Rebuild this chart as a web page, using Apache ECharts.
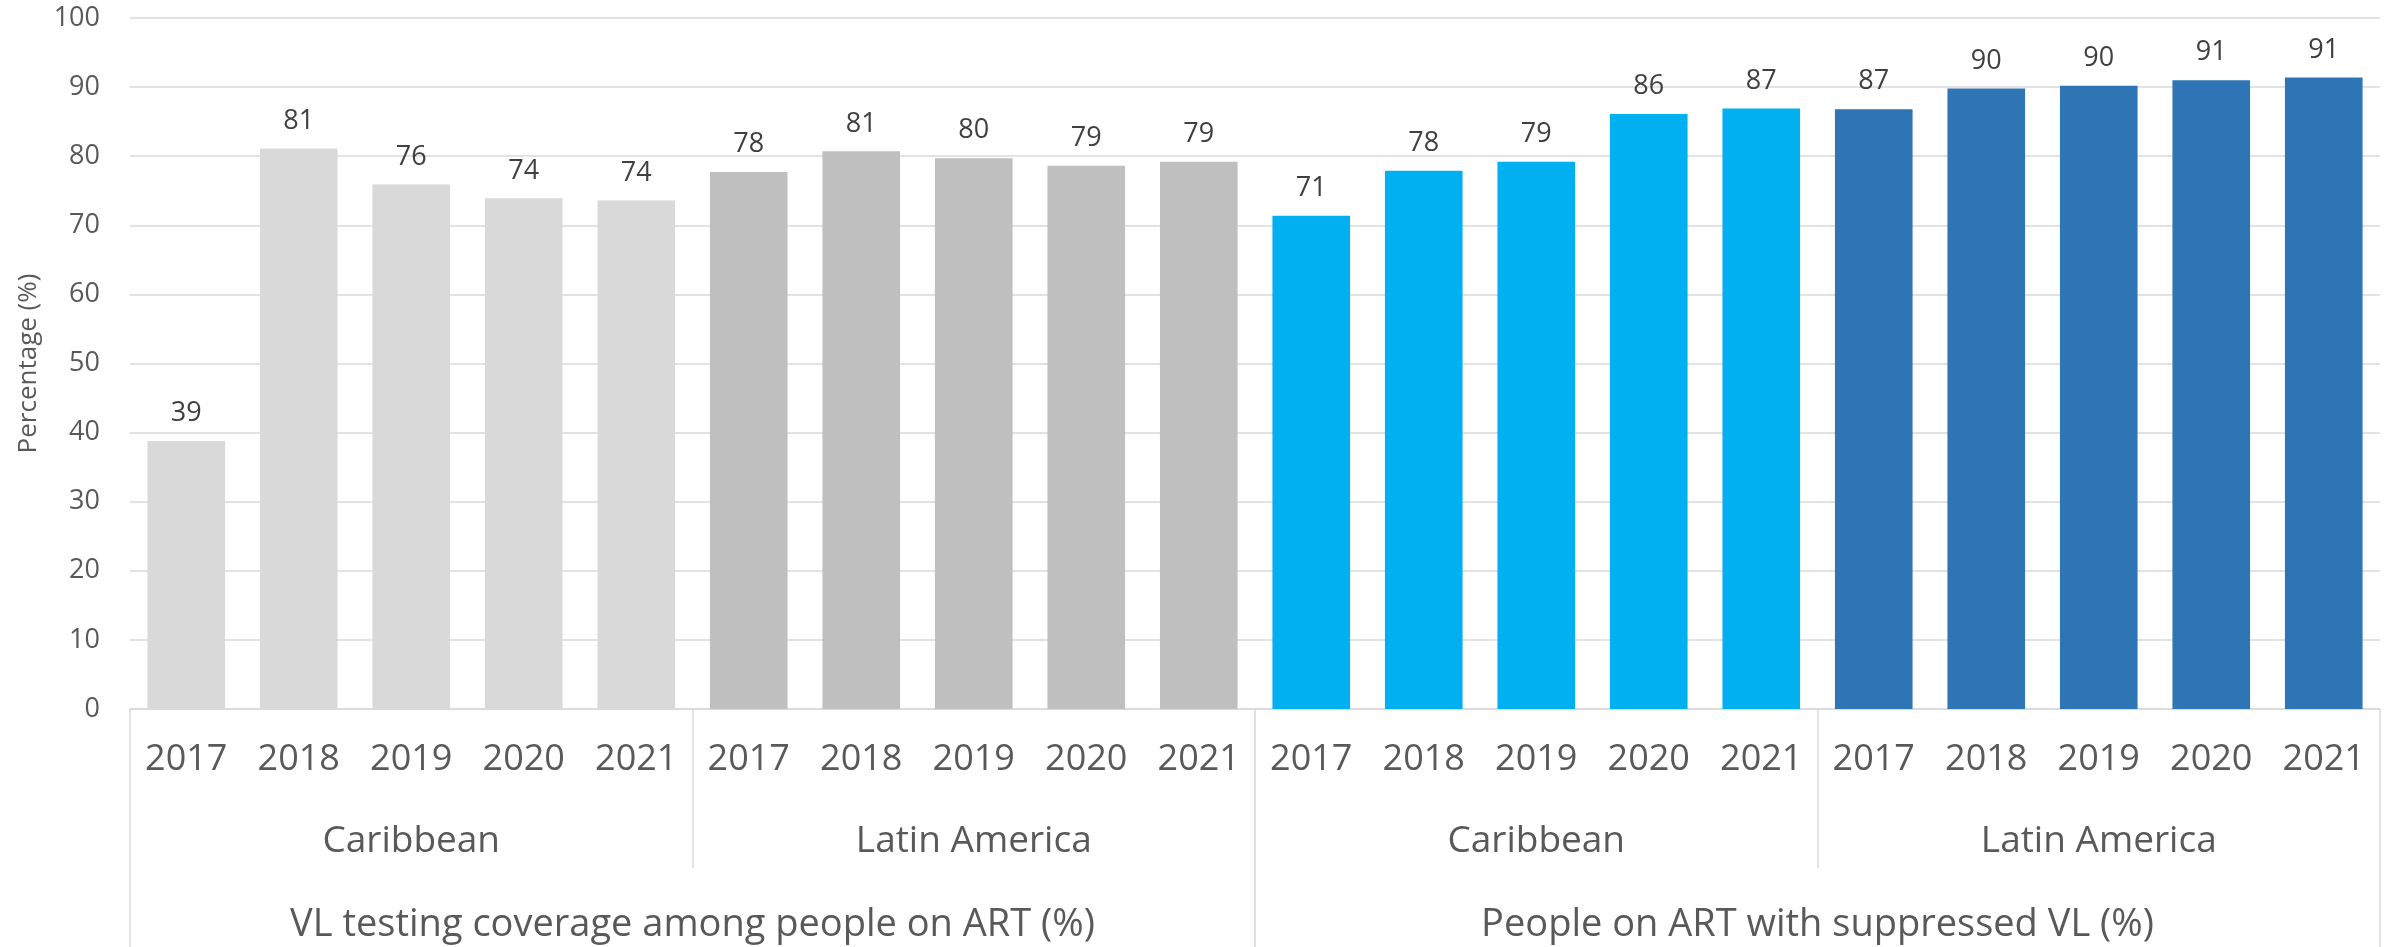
<!DOCTYPE html>
<html>
<head>
<meta charset="utf-8">
<script src="https://cdn.jsdelivr.net/npm/echarts@6/dist/echarts.min.js"></script>
<style>
html,body{margin:0;padding:0;background:#fff;}
#chart{width:2394px;height:947px;}
</style>
</head>
<body>
<div id="chart"></div>
<script>
const years = ['2017', '2018', '2019', '2020', '2021'];
const regions = ['Caribbean', 'Latin America'];
const groups = ['VL testing coverage among people on ART (%)', 'People on ART with suppressed VL (%)'];
const yTicks = [0, 10, 20, 30, 40, 50, 60, 70, 80, 90, 100];

const vlTestingCaribbean = [38.8, 81.1, 75.9, 73.9, 73.6];
const vlTestingLatinAmerica = [77.7, 80.7, 79.7, 78.6, 79.2];
const suppressedCaribbean = [71.4, 77.9, 79.2, 86.1, 86.9];
const suppressedLatinAmerica = [86.8, 89.8, 90.2, 91.0, 91.4];

const blockColors = ['#D9D9D9', '#BFBFBF', '#00B0F0', '#2E75B6'];
const blocks = [vlTestingCaribbean, vlTestingLatinAmerica, suppressedCaribbean, suppressedLatinAmerica];

const yearCats = [];
const barData = [];
blocks.forEach((arr, bi) => {
  arr.forEach((v, i) => {
    yearCats.push(years[i]);
    barData.push({ value: v, itemStyle: { color: blockColors[bi] } });
  });
});
const regionCats = [];
groups.forEach(() => regions.forEach(r => regionCats.push(r)));

const FONT = '"Open Sans", "DejaVu Sans", sans-serif';
const LINE = '#D9D9D9';

const chart = echarts.init(document.getElementById('chart'), null, { renderer: 'canvas' });
chart.setOption({
  animation: false,
  backgroundColor: '#ffffff',
  textStyle: { fontFamily: FONT },
  grid: { left: 130, right: 14, top: 18, bottom: 238, containLabel: false },
  xAxis: [
    {
      type: 'category', data: yearCats, position: 'bottom', gridIndex: 0,
      axisLine: { show: true, lineStyle: { color: LINE, width: 1.5 } },
      axisTick: { show: false },
      axisLabel: { interval: 0, fontSize: 36, color: '#595959', fontFamily: FONT, margin: 51, verticalAlign: 'middle' }
    },
    {
      type: 'category', data: regionCats, position: 'bottom', gridIndex: 0,
      axisLine: { show: false },
      axisTick: { show: true, interval: 0, length: 159, lineStyle: { color: LINE, width: 1.5 } },
      axisLabel: { interval: 0, fontSize: 37, color: '#595959', fontFamily: FONT, margin: 132, verticalAlign: 'middle' }
    },
    {
      type: 'category', data: groups, position: 'bottom', gridIndex: 0,
      axisLine: { show: false },
      axisTick: { show: true, interval: 0, length: 240, lineStyle: { color: LINE, width: 1.5 } },
      axisLabel: { interval: 0, fontSize: 38, color: '#595959', fontFamily: FONT, margin: 216, verticalAlign: 'middle' }
    }
  ],
  yAxis: {
    type: 'value', min: yTicks[0], max: yTicks[yTicks.length - 1], interval: 10,
    name: 'Percentage (%)', nameLocation: 'middle', nameGap: 88, nameRotate: 90,
    nameTextStyle: { fontSize: 26, color: '#595959', fontFamily: FONT },
    axisLine: { show: false }, axisTick: { show: false },
    axisLabel: { fontSize: 27, color: '#595959', fontFamily: FONT, margin: 30 },
    splitLine: { show: true, lineStyle: { color: LINE, width: 1.5 } }
  },
  series: [{
    type: 'bar', xAxisIndex: 0, yAxisIndex: 0,
    data: barData, barWidth: '69%',
    label: {
      show: true, position: 'top', distance: 14,
      fontSize: 27, color: '#404040', fontFamily: FONT,
      formatter: p => Math.round(p.value)
    }
  }]
});
</script>
</body>
</html>
